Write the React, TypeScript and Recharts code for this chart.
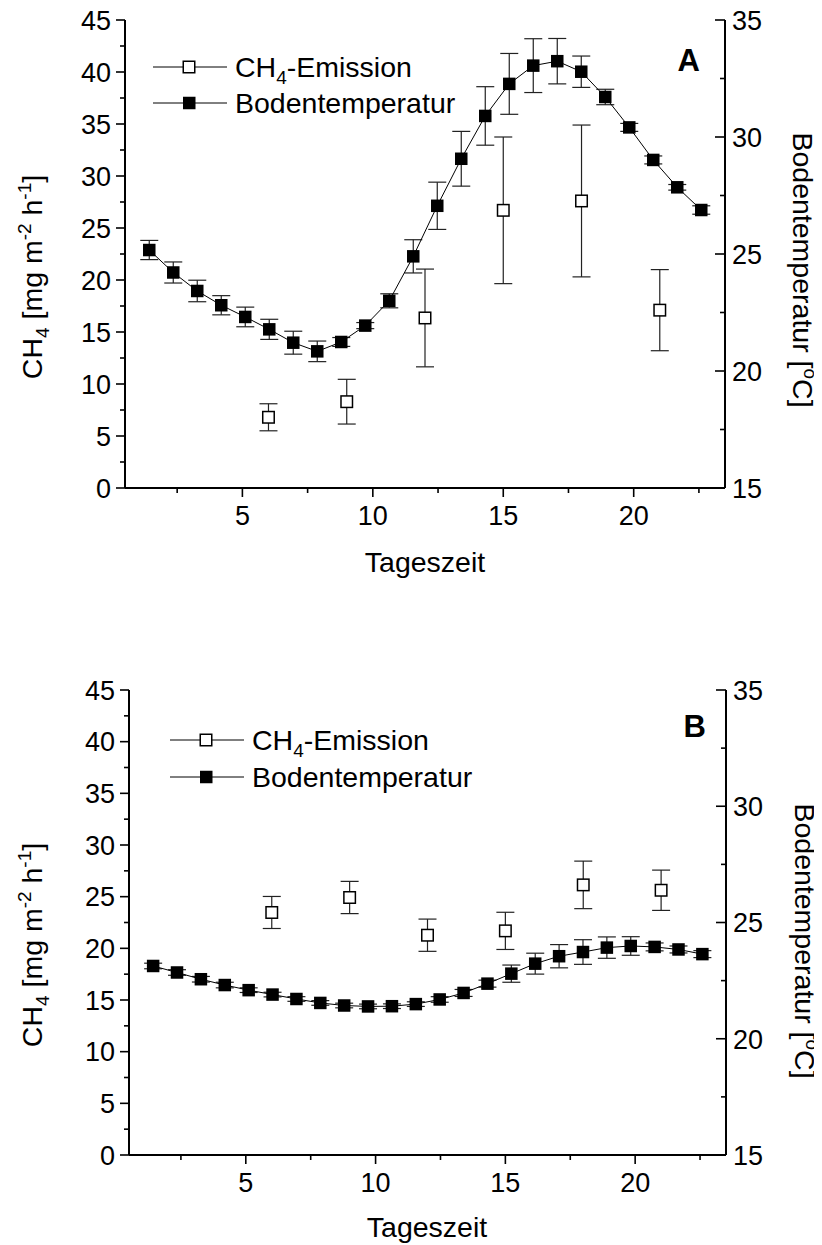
import React from 'react';
import { ComposedChart, Scatter, XAxis, YAxis, ErrorBar, Customized } from 'recharts';

// ---------- data ----------
const timesTemp = [1.43, 2.35, 3.27, 4.19, 5.11, 6.03, 6.95, 7.87, 8.79, 9.71, 10.63, 11.55, 12.47, 13.39, 14.31, 15.23, 16.15, 17.07, 17.99, 18.91, 19.83, 20.75, 21.67, 22.59];
const timesCH4 = [6, 9, 12, 15, 18, 21];

const tempA = [25.17, 24.21, 23.42, 22.81, 22.31, 21.78, 21.21, 20.84, 21.24, 21.94, 23.0, 24.9, 27.06, 29.07, 30.9, 32.27, 33.05, 33.24, 32.79, 31.71, 30.41, 29.02, 27.85, 26.88];
const tempAErr = [0.41, 0.45, 0.46, 0.41, 0.42, 0.43, 0.49, 0.44, 0.19, 0.13, 0.3, 0.71, 1.01, 1.17, 1.25, 1.3, 1.15, 0.97, 0.67, 0.33, 0.17, 0.17, 0.12, 0.18];
const ch4A = [6.8, 8.3, 16.35, 26.7, 27.6, 17.1];
const ch4AErr = [1.3, 2.15, 4.7, 7.05, 7.3, 3.9];

const tempB = [23.13, 22.85, 22.56, 22.31, 22.09, 21.9, 21.71, 21.54, 21.43, 21.39, 21.4, 21.49, 21.69, 21.97, 22.37, 22.8, 23.23, 23.55, 23.73, 23.92, 23.99, 23.95, 23.84, 23.64];
const tempBErr = [0.12, 0.12, 0.12, 0.12, 0.1, 0.1, 0.1, 0.1, 0.1, 0.1, 0.1, 0.1, 0.12, 0.15, 0.15, 0.37, 0.45, 0.5, 0.53, 0.46, 0.4, 0.17, 0.15, 0.15];
const ch4B = [23.47, 24.92, 21.27, 21.69, 26.14, 25.62];
const ch4BErr = [1.55, 1.56, 1.56, 1.8, 2.3, 1.95];

const xTicks = [2.5, 5, 7.5, 10, 12.5, 15, 17.5, 20, 22.5];
const leftTicks = [0, 2.5, 5, 7.5, 10, 12.5, 15, 17.5, 20, 22.5, 25, 27.5, 30, 32.5, 35, 37.5, 40, 42.5, 45];
const rightTicks = [15, 17.5, 20, 22.5, 25, 27.5, 30, 32.5, 35];
const xDomain: [number, number] = [0.5, 23.5];
const leftDomain: [number, number] = [0, 45];
const rightDomain: [number, number] = [15, 35];

const FONT = '"Liberation Sans", Arial, Helvetica, sans-serif';
const TICK_FS = 27;
const LABEL_FS = 28.5;

const build = (xs: number[], ys: number[], es: number[]) => xs.map((x, i) => ({ x, y: ys[i], err: es[i] }));

// ---------- ticks ----------
const isMajor = (v: number) => Math.abs(v / 5 - Math.round(v / 5)) < 1e-6;

function BottomTick(props: any) {
  const { x, y, payload } = props;
  const v = payload.value;
  const major = isMajor(v);
  return (
    <g>
      <line x1={x} y1={y} x2={x} y2={y + (major ? 9 : 5)} stroke="#000" strokeWidth={1.6} />
      {major && (
        <text x={x} y={y + 37} textAnchor="middle" fontSize={TICK_FS} fontFamily={FONT} fill="#000">{v}</text>
      )}
    </g>
  );
}
function TopTick(props: any) {
  const { x, y, payload } = props;
  const major = isMajor(payload.value);
  return <line x1={x} y1={y} x2={x} y2={y + (major ? 10 : 5)} stroke="#000" strokeWidth={1.6} />;
}
function LeftTick(props: any) {
  const { x, y, payload } = props;
  const v = payload.value;
  const major = isMajor(v);
  return (
    <g>
      <line x1={x} y1={y} x2={x - (major ? 9 : 5)} y2={y} stroke="#000" strokeWidth={1.6} />
      {major && (
        <text x={x - 14} y={y + 9.8} textAnchor="end" fontSize={TICK_FS} fontFamily={FONT} fill="#000">{v}</text>
      )}
    </g>
  );
}
function RightTick(props: any) {
  const { x, y, payload } = props;
  const v = payload.value;
  const major = isMajor(v);
  return (
    <g>
      <line x1={x} y1={y} x2={x - (major ? 10 : 5)} y2={y} stroke="#000" strokeWidth={1.6} />
      {major && (
        <text x={x + 7} y={y + 9.8} textAnchor="start" fontSize={TICK_FS} fontFamily={FONT} fill="#000">{v}</text>
      )}
    </g>
  );
}

// ---------- markers ----------
function FilledSquare(props: any) {
  const { cx, cy } = props;
  if (cx == null || cy == null) return null;
  return <rect x={cx - 6.25} y={cy - 6.25} width={12.5} height={12.5} fill="#000" />;
}
function OpenSquare(props: any) {
  const { cx, cy } = props;
  if (cx == null || cy == null) return null;
  return <rect x={cx - 5.75} y={cy - 5.75} width={11.5} height={11.5} fill="#fff" stroke="#000" strokeWidth={1.5} />;
}

// ---------- overlay (legend, titles, tag) ----------
function Overlay(props: any) {
  const { lx, ly1, ly2, tag, tagX, tagY, leftT, rightT, xT } = props;
  const row = (y: number, filled: boolean, content: React.ReactNode) => (
    <g>
      <line x1={lx} y1={y} x2={lx + 74} y2={y} stroke="#000" strokeWidth={1} />
      {filled ? (
        <rect x={lx + 30} y={y - 6.25} width={12.5} height={12.5} fill="#000" />
      ) : (
        <rect x={lx + 30.25} y={y - 5.75} width={11.5} height={11.5} fill="#fff" stroke="#000" strokeWidth={1.5} />
      )}
      <text x={lx + 82} y={y + 10} fontSize={LABEL_FS} fontFamily={FONT} fill="#000">{content}</text>
    </g>
  );
  return (
    <g>
      {row(ly1, false, <>CH<tspan dy={7} fontSize={19}>4</tspan><tspan dy={-7}>-Emission</tspan></>)}
      {row(ly2, true, <>Bodentemperatur</>)}
      <text x={tagX} y={tagY} textAnchor="end" fontSize={31} fontWeight="bold" fontFamily={FONT} fill="#000">{tag}</text>
      <text
        x={leftT[0]}
        y={leftT[1]}
        transform={`rotate(-90 ${leftT[0]} ${leftT[1]})`}
        textAnchor="middle"
        fontSize={LABEL_FS}
        fontFamily={FONT}
        fill="#000"
      >
        CH<tspan dy={7} fontSize={19}>4</tspan>
        <tspan dy={-7}> [mg m</tspan>
        <tspan dy={-11} fontSize={19}>-2</tspan>
        <tspan dy={11}> h</tspan>
        <tspan dy={-11} fontSize={19}>-1</tspan>
        <tspan dy={11}>]</tspan>
      </text>
      <text
        x={rightT[0]}
        y={rightT[1]}
        transform={`rotate(90 ${rightT[0]} ${rightT[1]})`}
        textAnchor="middle"
        fontSize={LABEL_FS}
        fontFamily={FONT}
        fill="#000"
      >
        Bodentemperatur [<tspan dy={-11} fontSize={19}>o</tspan>
        <tspan dy={11}>C]</tspan>
      </text>
      <text x={xT[0]} y={xT[1]} textAnchor="middle" fontSize={LABEL_FS} fontFamily={FONT} fill="#000">Tageszeit</text>
    </g>
  );
}

type PanelProps = {
  height: number;
  top: number;
  leftW: number;
  rightW: number;
  bottomH: number;
  temp: number[];
  tempErr: number[];
  ch4: number[];
  ch4Err: number[];
  overlay: any;
};

function Panel(p: PanelProps) {
  const W = 814;
  const tempData = build(timesTemp, p.temp, p.tempErr);
  const ch4Data = build(timesCH4, p.ch4, p.ch4Err);
  const axisLine = { stroke: '#000', strokeWidth: 2 };
  return (
    <ComposedChart
      width={W}
      height={p.height}
      margin={{ top: p.top, right: 0, bottom: 0, left: 0 }}
      style={{ fontFamily: FONT }}
    >
      <XAxis
        xAxisId="bottom"
        dataKey="x"
        type="number"
        orientation="bottom"
        domain={xDomain}
        ticks={xTicks}
        interval={0}
        allowDataOverflow
        height={p.bottomH}
        axisLine={axisLine}
        tickLine={false}
        tickSize={0}
        tickMargin={0}
        tick={<BottomTick />}
      />
      <XAxis
        xAxisId="top"
        dataKey="x"
        type="number"
        orientation="top"
        domain={xDomain}
        ticks={xTicks}
        interval={0}
        allowDataOverflow
        height={0}
        axisLine={axisLine}
        tickLine={false}
        tickSize={0}
        tickMargin={0}
        tick={<TopTick />}
      />
      <YAxis
        yAxisId="left"
        type="number"
        orientation="left"
        domain={leftDomain}
        ticks={leftTicks}
        interval={0}
        allowDataOverflow
        width={p.leftW}
        axisLine={axisLine}
        tickLine={false}
        tickSize={0}
        tickMargin={0}
        tick={<LeftTick />}
      />
      <YAxis
        yAxisId="right"
        type="number"
        orientation="right"
        domain={rightDomain}
        ticks={rightTicks}
        interval={0}
        allowDataOverflow
        width={p.rightW}
        axisLine={axisLine}
        tickLine={false}
        tickSize={0}
        tickMargin={0}
        tick={<RightTick />}
      />
      <Scatter
        name="Bodentemperatur"
        data={tempData}
        dataKey="y"
        xAxisId="bottom"
        yAxisId="right"
        line={{ stroke: '#000', strokeWidth: 1 }}
        shape={<FilledSquare />}
        isAnimationActive={false}
      >
        <ErrorBar dataKey="err" direction="y" width={9} stroke="#222" strokeWidth={1.2} isAnimationActive={false} />
      </Scatter>
      <Scatter
        name="CH4-Emission"
        data={ch4Data}
        dataKey="y"
        xAxisId="bottom"
        yAxisId="left"
        shape={<OpenSquare />}
        isAnimationActive={false}
      >
        <ErrorBar dataKey="err" direction="y" width={9} stroke="#222" strokeWidth={1.2} isAnimationActive={false} />
      </Scatter>
      <Customized component={<Overlay {...p.overlay} />} />
    </ComposedChart>
  );
}

export default function App() {
  return (
    <div style={{ width: 814, fontFamily: FONT, marginTop: -8 }}>
      <Panel
        height={608}
        top={20}
        leftW={117}
        rightW={97}
        bottomH={120}
        temp={tempA}
        tempErr={tempAErr}
        ch4={ch4A}
        ch4Err={ch4AErr}
        overlay={{ lx: 145, ly1: 67, ly2: 103, tag: 'A', tagX: 692, tagY: 71, leftT: [34, 277], rightT: [785, 270], xT: [417, 572] }}
      />
      <Panel
        height={637}
        top={82}
        leftW={121}
        rightW={96}
        bottomH={90}
        temp={tempB}
        tempErr={tempBErr}
        ch4={ch4B}
        ch4Err={ch4BErr}
        overlay={{ lx: 162, ly1: 132, ly2: 169, tag: 'B', tagX: 698, tagY: 129, leftT: [34, 337], rightT: [787, 333], xT: [419, 629] }}
      />
    </div>
  );
}
